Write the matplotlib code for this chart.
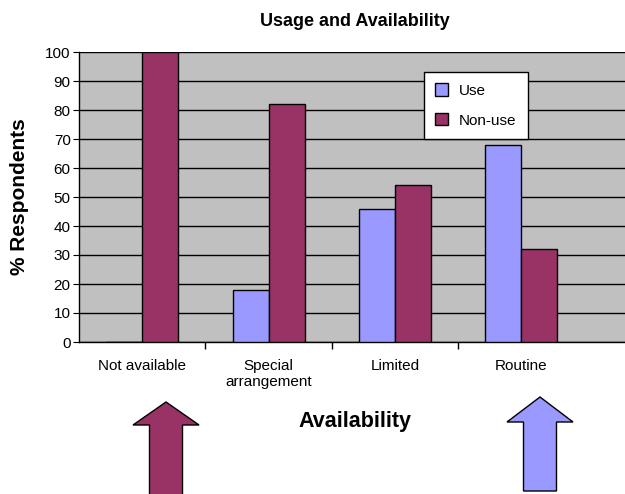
import numpy as np
import matplotlib.pyplot as plt
from matplotlib.patches import Polygon

plt.rcParams['font.family'] = ['Liberation Sans', 'DejaVu Sans']

categories = ['Not available', 'Special\narrangement', 'Limited', 'Routine']
use = [0, 18, 46, 68]
non_use = [100, 82, 54, 32]

use_color = '#9999FF'
nonuse_color = '#993366'

W, H = 625, 494
fig = plt.figure(figsize=(W / 100, H / 100), dpi=100)
ax = fig.add_axes([79 / W, 152 / H, 1 - 79 / W, 290 / H])

x = np.arange(len(categories))
bw = 0.285
ax.bar(x - bw / 2, use, bw, color=use_color, edgecolor='black', linewidth=1, label='Use', zorder=3)
ax.bar(x + bw / 2, non_use, bw, color=nonuse_color, edgecolor='black', linewidth=1, label='Non-use', zorder=3)

ax.set_facecolor('#C0C0C0')
ax.set_xlim(-0.5, 3.82)
ax.set_ylim(0, 100)
ax.set_yticks(range(0, 101, 10))
ax.yaxis.grid(True, color='black', linewidth=1)
ax.set_axisbelow(True)

# category ticks sit between groups, labels centred under groups
ax.set_xticks([0.5, 1.5, 2.5], minor=False)
ax.set_xticklabels([])
ax.set_xticks(x, minor=True)
ax.set_xticklabels(categories, minor=True, fontsize=11)
ax.tick_params(axis='x', which='minor', length=0, pad=12)
ax.tick_params(axis='x', which='major', length=5, direction='out', width=1)
ax.tick_params(axis='y', labelsize=11, length=4, direction='out', pad=2)

for s in ['top', 'right']:
    ax.spines[s].set_visible(False)
ax.spines['left'].set_linewidth(1)
ax.spines['bottom'].set_linewidth(1)

ax.set_ylabel('% Respondents', fontsize=15, fontweight='bold', labelpad=12)
fig.text(355 / W, 1 - 21 / H, 'Usage and Availability', fontsize=13, fontweight='bold',
         ha='center', va='center')
fig.text(355 / W, 1 - 422 / H, 'Availability', fontsize=15.5, fontweight='bold',
         ha='center', va='center')

leg = ax.legend(loc='upper left', bbox_to_anchor=((424 - 79) / (W - 79), 1 - (72 - 52) / 290),
                fontsize=11, frameon=True, fancybox=False, edgecolor='black',
                handlelength=0.85, handleheight=0.85, borderpad=0.75, labelspacing=1.0,
                handletextpad=0.7, borderaxespad=0)
leg.get_frame().set_linewidth(1)
leg.get_frame().set_facecolor('white')
leg.get_frame().set_alpha(1)


def up_arrow(cx, top, neck, bottom, head_w, shaft_w, color):
    pts = [(cx, top), (cx + head_w / 2, neck), (cx + shaft_w / 2, neck),
           (cx + shaft_w / 2, bottom), (cx - shaft_w / 2, bottom),
           (cx - shaft_w / 2, neck), (cx - head_w / 2, neck)]
    pts = [(px / W, 1 - py / H) for px, py in pts]
    fig.patches.append(Polygon(pts, closed=True, facecolor=color, edgecolor='black',
                               linewidth=1, transform=fig.transFigure))


up_arrow(166, 402, 425, 500, 66, 33, nonuse_color)
up_arrow(540, 397, 422, 491, 66, 33, use_color)

fig.savefig('out.png', dpi=100)
